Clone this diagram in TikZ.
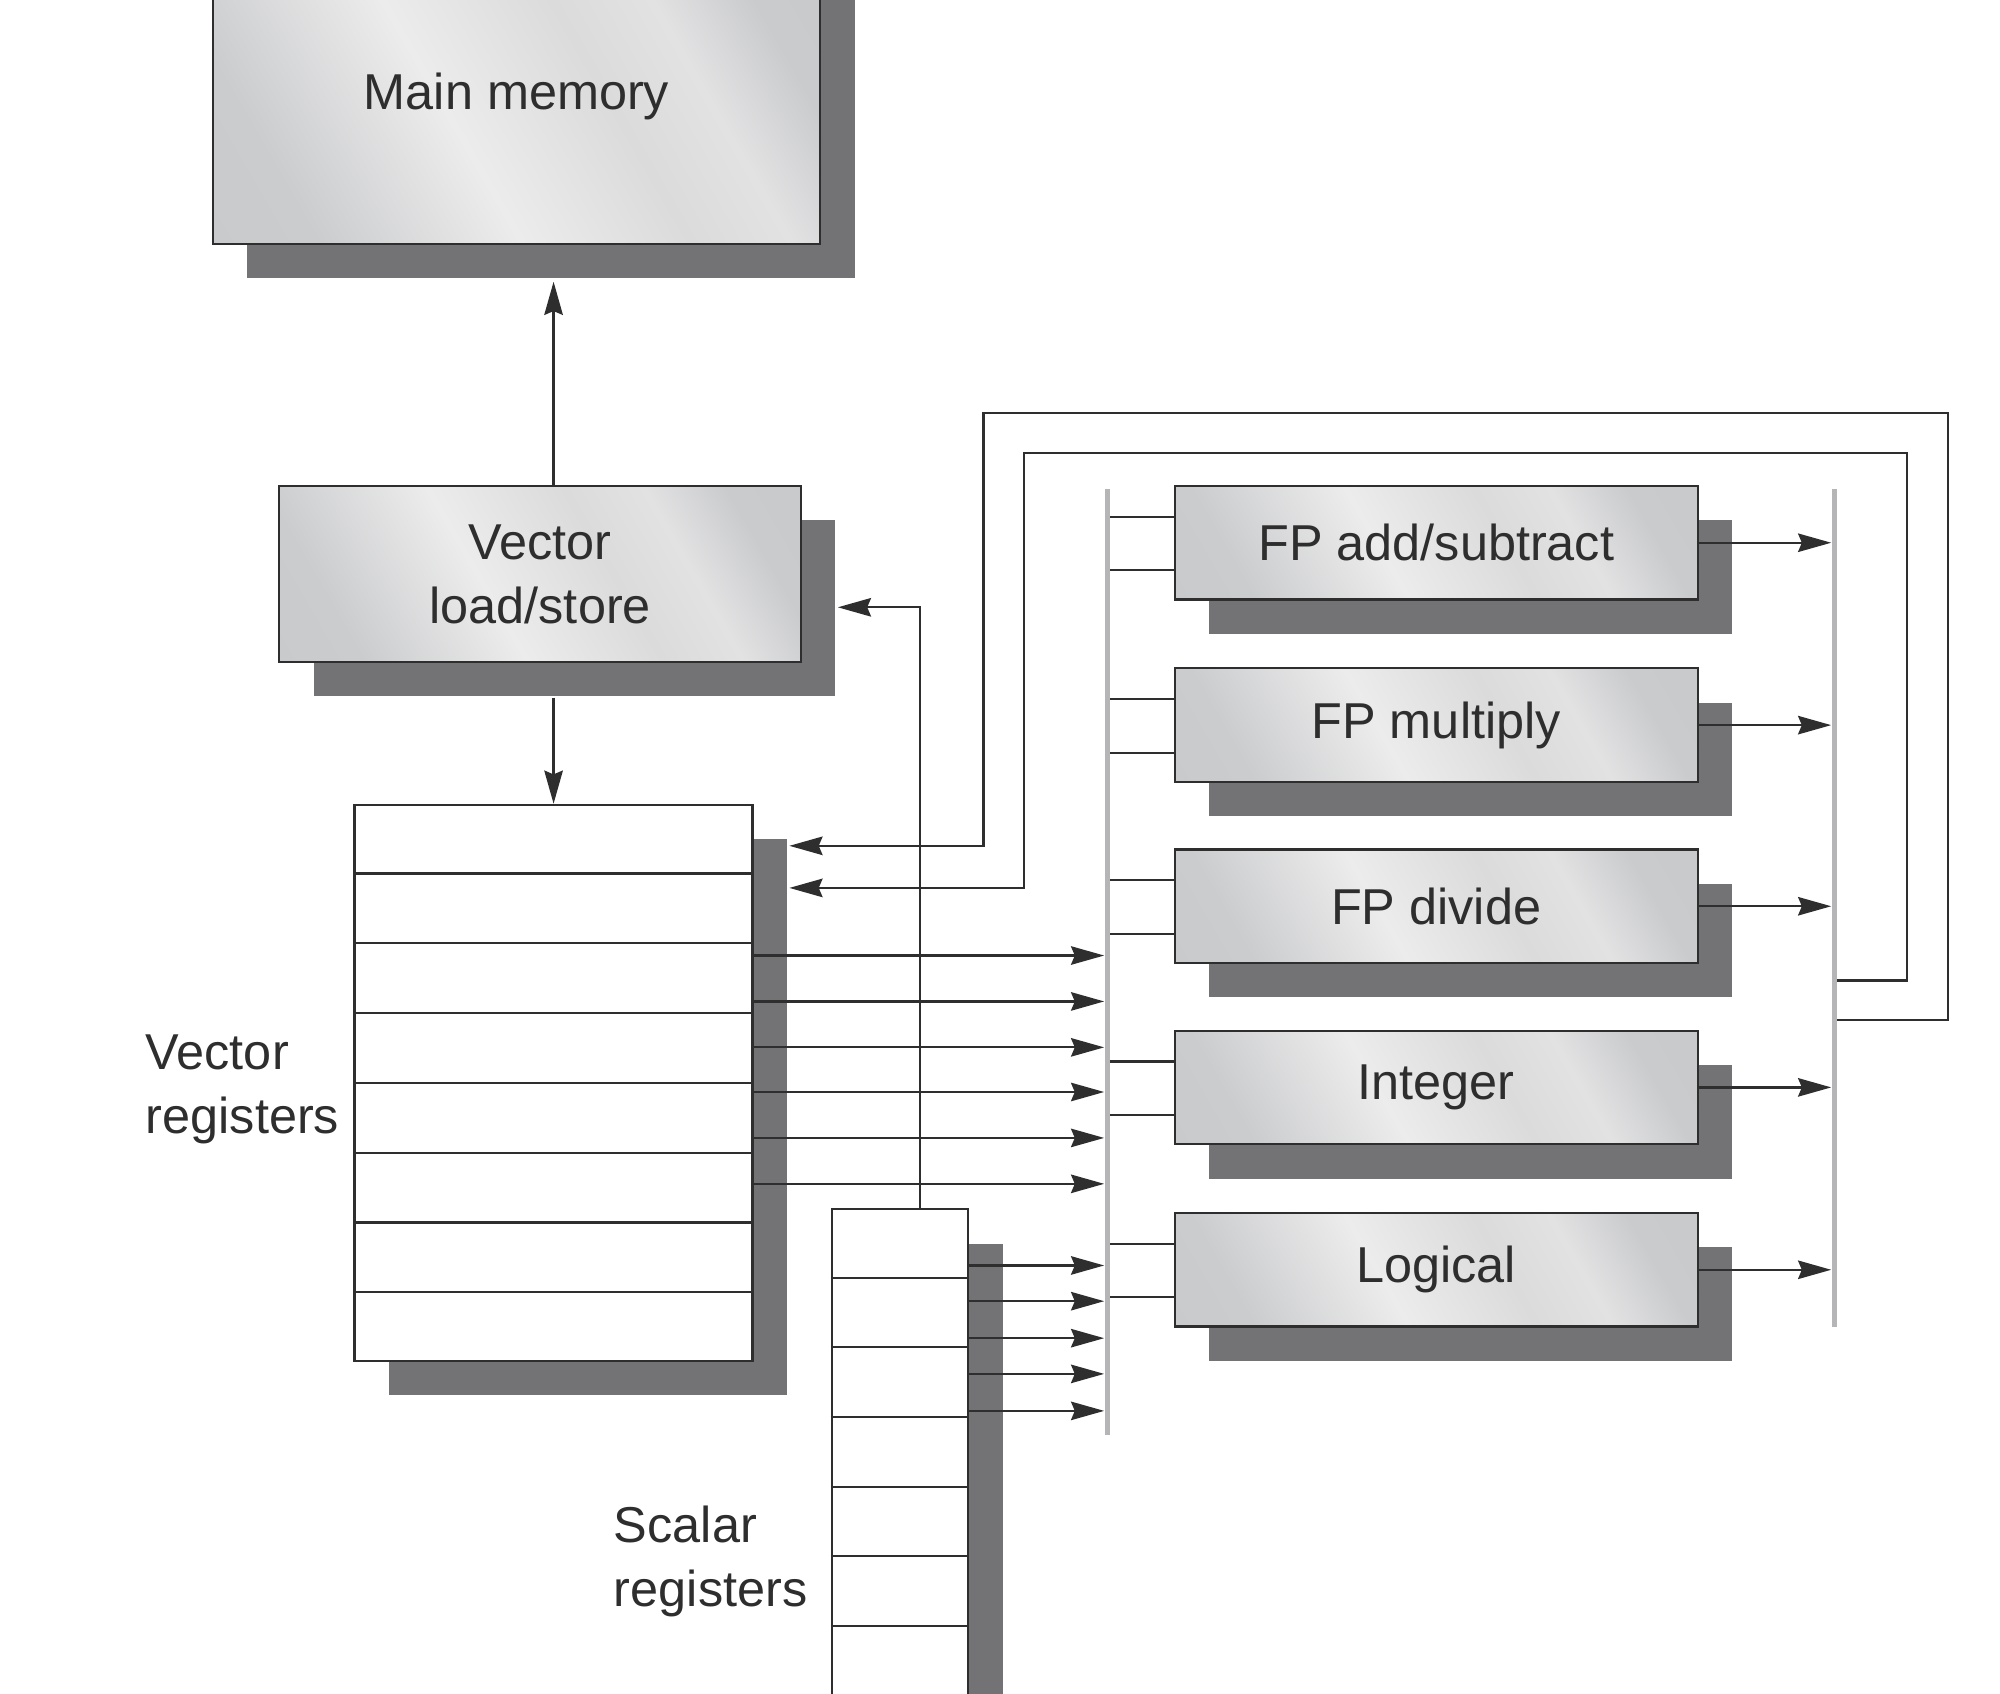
\documentclass[tikz,border=0pt]{standalone}
\usepackage{fontspec}
\setmainfont{Liberation Sans}
\usetikzlibrary{arrows.meta,shadows,fit,calc}
\definecolor{shd}{HTML}{737376}
\definecolor{ln}{HTML}{2E2E2E}
\definecolor{busc}{HTML}{B5B5B7}
\definecolor{sa}{HTML}{C6C7C9}
\definecolor{sb}{HTML}{CBCCCE}
\definecolor{sl}{HTML}{ECECEC}
\definecolor{sm}{HTML}{DBDBDC}
\definecolor{smm}{HTML}{E2E2E3}
\definecolor{se}{HTML}{CACBCD}
\pgfdeclarehorizontalshading{silver}{100bp}{color(0bp)=(sa); color(25bp)=(sb); color(43bp)=(sl); color(58bp)=(sm); color(67bp)=(smm); color(76bp)=(se); color(100bp)=(sa)}
\begin{document}
\begin{tikzpicture}[x=0.02cm, y=-0.02cm,
  font=\fontsize{22.5}{28.5}\selectfont, text=ln,
  sh/.style={drop shadow={shadow xshift=0.54cm, shadow yshift=-0.54cm, fill=shd, opacity=1}},
  unit/.style={draw=ln, line width=1pt, shading=silver, shading angle=30, inner sep=0pt, sh},
  reg/.style={draw=ln, line width=1pt, fill=white, inner sep=0pt, sh},
  bus/.style={fill=busc, inner sep=0pt},
  txt/.style={align=center, inner sep=0pt, text=ln},
  lbl/.style={anchor=west, align=left, inner sep=0pt},
  arr/.style={draw=ln, line width=1pt, -{Stealth[length=0.52cm, width=0.29cm, inset=0.06cm]}},
  wire/.style={draw=ln, line width=1pt}]
\useasboundingbox (0,0) rectangle (1568,1328);
\begin{scope}
\clip (0,0) rectangle (1568,1328);
% boxes
\node[unit, fit={(167,-39) (643,191)}, label={[txt]center:Main memory}] (mm) {};
\node[unit, fit={(219,381) (628,519)}, label={[txt]center:Vector\\load/store}] (vls) {};
\node[reg, fit={(278,631) (590,1067)}] (vreg) {};
\node[reg, fit={(652,948) (759,1420)}] (sreg) {};
\foreach \i in {1,...,7}
  \draw[wire] ($(vreg.north west)!\i/8!(vreg.south west)$) -- ($(vreg.north east)!\i/8!(vreg.south east)$);
\foreach \i in {1,...,8}
  \draw[wire] ($(sreg.north west)+(0,54.6*\i)$) -- ($(sreg.north east)+(0,54.6*\i)$);
% labels
\node[lbl] (vrl) at (114,854) {Vector\\registers};
\node[lbl] (srl) at (481,1224) {Scalar\\registers};
% buses
\node[bus, fit={(866,383) (870,1125)}] (lbus) {};
\node[bus, fit={(1436,383) (1440,1040)}] (rbus) {};
% functional units
\foreach \n/\t/\l in {fpadd/381/{FP add/subtract}, fpmul/524/{FP multiply}, fpdiv/666/{FP divide}, fint/808/{Integer}, flog/951/{Logical}} {
  \node[unit, fit={(921,\t) (1331,\t+89)}, label={[txt]center:\l}] (\n) {};
  \path (\n.north west) ++(0,25) coordinate (a1);
  \path (\n.north west) ++(0,67) coordinate (a2);
  \draw[wire] (a1 -| lbus.east) -- (a1);
  \draw[wire] (a2 -| lbus.east) -- (a2);
  \draw[arr] (\n.east) -- (\n.east -| rbus.west);
}
% vector register outputs
\foreach \d in {119,155,191,226,262,298} {
  \path (vreg.north east) ++(0,\d) coordinate (va);
  \draw[arr] (va) -- (va -| lbus.west);
}
% scalar register outputs
\foreach \d in {45,73,102,130,159} {
  \path (sreg.north east) ++(0,\d) coordinate (sa);
  \draw[arr] (sa) -- (sa -| lbus.west);
}
% memory <-> load/store <-> registers
\draw[arr] (vls.north -| vreg.north) -- ($(mm.south -| vreg.north)+(0,29)$);
\draw[arr] ($(vls.south -| vreg.north)+(0,27)$) -- (vreg.north);
% scalar to load/store
\path (sreg.north west) ++(70,0) coordinate (su);
\path (vls.north east) ++(28,96) coordinate (vlsh);
\draw[arr] (su) |- (vlsh);
% feedback from result bus
\path (vreg.north east) ++(28,33) coordinate (fb1);
\path (vreg.north east) ++(28,66) coordinate (fb2);
\path (rbus.north east) ++(0,417) coordinate (rb1);
\path (rbus.north east) ++(0,386) coordinate (rb2);
\draw[arr] (rb1) -- ++(87,0) |- (771,324) |- (fb1);
\draw[arr] (rb2) -- ++(55,0) |- (803,355) |- (fb2);
\end{scope}
\end{tikzpicture}
\end{document}
